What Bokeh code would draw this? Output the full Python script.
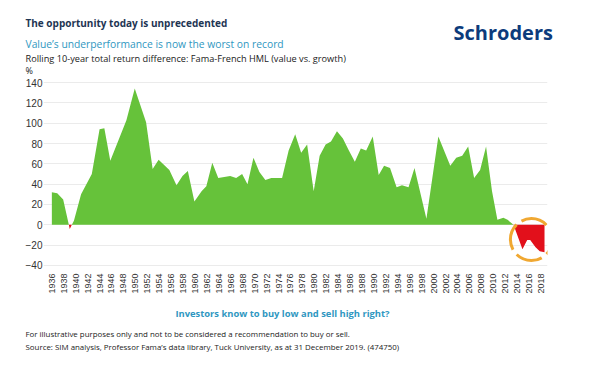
import math
from bokeh.plotting import figure
from bokeh.models import Range1d, FixedTicker, Label
from bokeh.embed import file_html
from bokeh.resources import INLINE

# ---- data ----
years = [1936.0, 1936.9, 1937.9, 1939.0, 1939.7, 1940.9, 1942.7, 1944.0, 1944.8, 1945.8,
         1948.5, 1949.9, 1951.8, 1952.9, 1953.9, 1955.7, 1956.9, 1957.9, 1958.8, 1959.9,
         1961.1, 1961.9, 1962.9, 1963.9, 1965.9, 1966.9, 1967.9, 1968.8, 1969.8, 1970.8,
         1971.8, 1972.8, 1974.6, 1975.7, 1976.8, 1977.8, 1978.8, 1979.9, 1980.9, 1981.9,
         1982.8, 1983.8, 1984.8, 1985.8, 1986.8, 1987.8, 1988.7, 1989.8, 1990.8, 1991.7,
         1992.7, 1993.8, 1994.7, 1995.8, 1996.8, 1998.8, 2000.8, 2002.8, 2003.8, 2004.8,
         2005.8, 2006.8, 2007.8, 2008.8, 2009.8, 2010.7, 2011.7, 2012.4, 2013.4, 2014.9,
         2015.7, 2016.2, 2017.1, 2017.8, 2018.6]
values = [32, 31, 25, -4, 4, 30, 50, 94, 95, 63,
          103, 134, 101, 55, 64, 54, 39, 48, 53, 23,
          33, 38, 61, 46, 48, 46, 50, 40, 66, 52,
          44, 46, 46, 73, 89, 71, 79, 33, 68, 79,
          82, 92, 85, 73, 62, 75, 73, 87, 49, 58,
          56, 37, 39, 37, 56, 6, 87, 58, 66, 68,
          77, 46, 54, 77, 33, 5, 7, 5, 0, -24,
          -15, -15, -22, -26, -27]
x_tick_years = list(range(1936, 2019, 2))
y_ticks = [-40, -20, 0, 20, 40, 60, 80, 100, 120, 140]
highlight_center = (2016.4, -14.5)

title = "The opportunity today is unprecedented"
subtitle = "Value\u2019s underperformance is now the worst on record"
chart_desc = "Rolling 10-year total return difference: Fama-French HML (value vs. growth)"
unit = "%"
brand = "Schroders"
question = "Investors know to buy low and sell high right?"
note1 = "For illustrative purposes only and not to be considered a recommendation to buy or sell."
note2 = "Source: SIM analysis, Professor Fama\u2019s data library, Tuck University, as at 31 December 2019. (474750)"

GREEN = "#66c23a"
RED = "#e2101b"
ORANGE = "#f0a832"
NAVY = "#1e3553"
TEAL = "#2f97c1"
FONT = "Open Sans"

# split into positive / negative parts with zero crossings
xs, ys = [], []
for i in range(len(years)):
    if i > 0:
        v0, v1 = values[i - 1], values[i]
        if (v0 > 0 and v1 < 0) or (v0 < 0 and v1 > 0):
            t = v0 / (v0 - v1)
            xs.append(years[i - 1] + t * (years[i] - years[i - 1]))
            ys.append(0)
    xs.append(years[i])
    ys.append(values[i])
pos = [max(v, 0) for v in ys]
neg = [min(v, 0) for v in ys]
zeros = [0] * len(xs)

p = figure(width=594, height=373,
           x_range=Range1d(1934.6, 2019.1), y_range=Range1d(-41, 141),
           output_backend="svg", toolbar_location=None,
           min_border_left=43, min_border_right=47, min_border_top=81, min_border_bottom=107)
p.outline_line_color = None
p.background_fill_color = "white"
p.border_fill_color = "white"

p.varea(x=xs, y1=zeros, y2=pos, fill_color=GREEN)
p.varea(x=xs, y1=neg, y2=zeros, fill_color=RED)

p.scatter(x=[highlight_center[0]], y=[highlight_center[1]], marker="circle", size=42,
          fill_alpha=0, line_color=ORANGE, line_width=3, line_dash="27 6", line_dash_offset=-22)

p.xgrid.visible = False
p.ygrid.ticker = FixedTicker(ticks=y_ticks)
p.ygrid.grid_line_color = "#ebebeb"

p.yaxis.ticker = FixedTicker(ticks=y_ticks)
p.yaxis.axis_line_color = None
p.yaxis.major_tick_line_color = None
p.yaxis.minor_tick_line_color = None
p.yaxis.major_tick_out = 0
p.yaxis.major_tick_in = 0
p.yaxis.minor_tick_out = 0
p.yaxis.major_label_standoff = 1
p.yaxis.major_label_text_font = "Liberation Sans"
p.yaxis.major_label_text_font_size = "10px"
p.yaxis.major_label_text_color = "#333333"

p.xaxis.ticker = FixedTicker(ticks=x_tick_years)
p.xaxis.axis_line_color = None
p.xaxis.major_tick_line_color = None
p.xaxis.minor_tick_line_color = None
p.xaxis.major_tick_out = 0
p.xaxis.major_tick_in = 0
p.xaxis.minor_tick_out = 0
p.xaxis.major_label_orientation = math.pi / 2
p.xaxis.major_label_standoff = 7
p.xaxis.major_label_text_font = "Liberation Sans"
p.xaxis.major_label_text_font_size = "9px"
p.xaxis.major_label_text_color = "#333333"


def lab(text, x, y, size, color, side, style="normal", align="left", font=FONT):
    p.add_layout(Label(x=x, y=y, x_units="canvas", y_units="canvas", text=text,
                       text_font=font, text_font_size=size, text_color=color,
                       text_font_style=style, text_align=align, text_baseline="middle"), side)


lab(title, 25, 22, "10px", NAVY, "above", "bold")
lab(subtitle, 25, 43, "10.3px", TEAL, "above")
lab(chart_desc, 25, 58, "9.2px", "#222222", "above")
lab(unit, 25, 70, "9px", "#222222", "above")
lab(brand, 453, 32, "20px", "#0c3b7c", "above", "bold")
lab(question, 282, 313, "9.4px", TEAL, "below", "bold", "center")
lab(note1, 25, 333, "7.9px", "#222222", "below")
lab(note2, 25, 346, "7.9px", "#222222", "below")

open("out.html", "w").write(file_html(p, INLINE))
